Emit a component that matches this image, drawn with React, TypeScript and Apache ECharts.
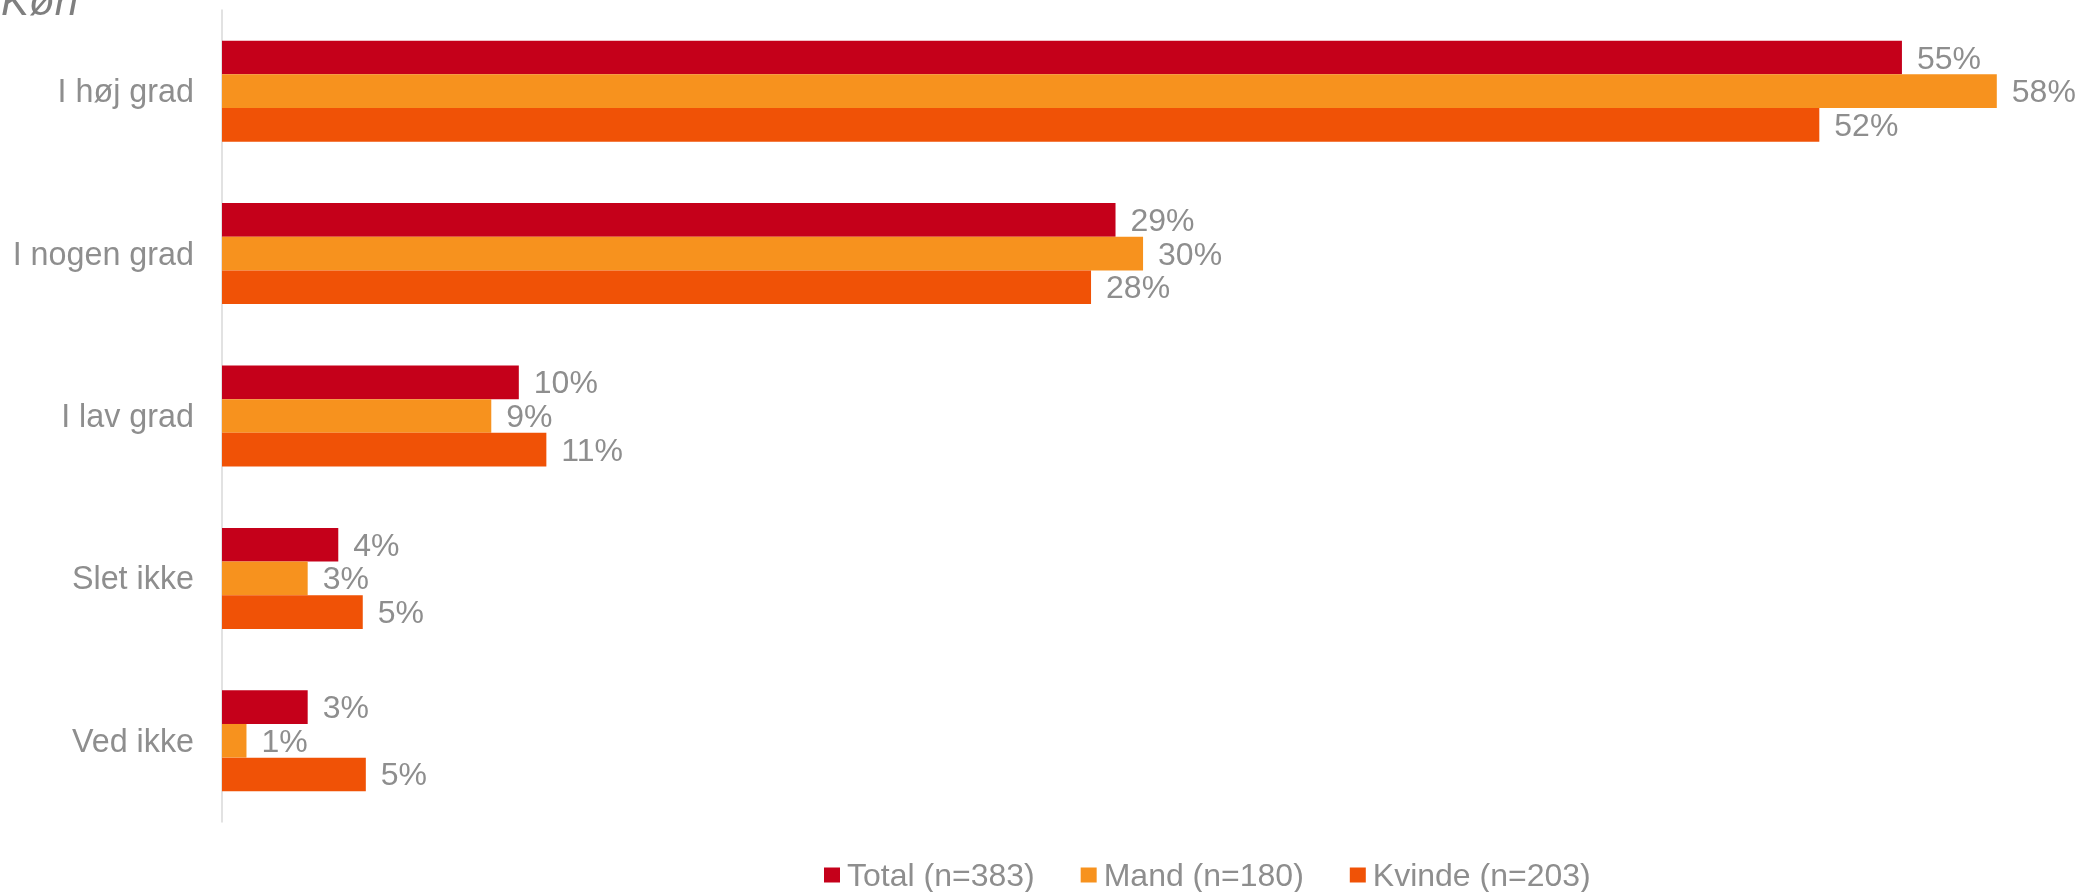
import React, { useEffect, useRef } from "react";
import * as echarts from "echarts";

const categories = ["I høj grad", "I nogen grad", "I lav grad", "Slet ikke", "Ved ikke"];
const seriesNames = ["Total (n=383)", "Mand (n=180)", "Kvinde (n=203)"];
const totalValues = [54.9, 29.2, 9.7, 3.8, 2.8];
const mandValues = [58.0, 30.1, 8.8, 2.8, 0.8];
const kvindeValues = [52.2, 28.4, 10.6, 4.6, 4.7];
const colors = ["#C5001A", "#F7921E", "#F05206"];
const titleText = "Køn";

export default function App() {
  const ref = useRef<HTMLDivElement>(null);
  useEffect(() => {
    if (!ref.current) return;
    const chart = echarts.init(ref.current, undefined, { renderer: "svg" });
    const font = "Liberation Sans, Arial, sans-serif";
    const grey = "#8E8E8E";
    const values = [totalValues, mandValues, kvindeValues];
    chart.setOption({
      animation: false,
      title: {
        text: titleText,
        left: -4,
        top: -26,
        textStyle: { fontFamily: font, fontSize: 42, fontStyle: "italic", fontWeight: "normal", color: "#7F7F7F" },
      },
      legend: {
        data: seriesNames,
        left: 824,
        top: 859,
        padding: 0,
        itemWidth: 16,
        itemHeight: 15,
        itemGap: 46,
        icon: "rect",
        textStyle: { fontFamily: font, fontSize: 32, lineHeight: 32, color: grey, padding: [0, 0, 0, 2] },
      },
      grid: { left: 222, right: 25, top: 10, bottom: 70, containLabel: false },
      xAxis: {
        type: "value",
        min: 0,
        max: 60,
        show: false,
        splitLine: { show: false },
      },
      yAxis: {
        type: "category",
        data: categories,
        inverse: true,
        axisLine: { show: true, lineStyle: { color: "#D9D9D9", width: 1.5 } },
        axisTick: { show: false },
        axisLabel: { fontFamily: font, fontSize: 32.3, color: grey, margin: 28 },
      },
      series: seriesNames.map((name, i) => ({
        name,
        type: "bar",
        data: values[i],
        barGap: "0%",
        barCategoryGap: "37.8%",
        itemStyle: { color: colors[i] },
        label: {
          show: true,
          position: "right",
          distance: 15,
          fontFamily: font,
          fontSize: 32,
          color: grey,
          formatter: (p: any) => Math.round(p.value) + "%",
        },
      })),
    });
    return () => chart.dispose();
  }, []);
  return <div ref={ref} style={{ position: "fixed", left: 0, top: 0, width: 2083, height: 892 }} />;
}
